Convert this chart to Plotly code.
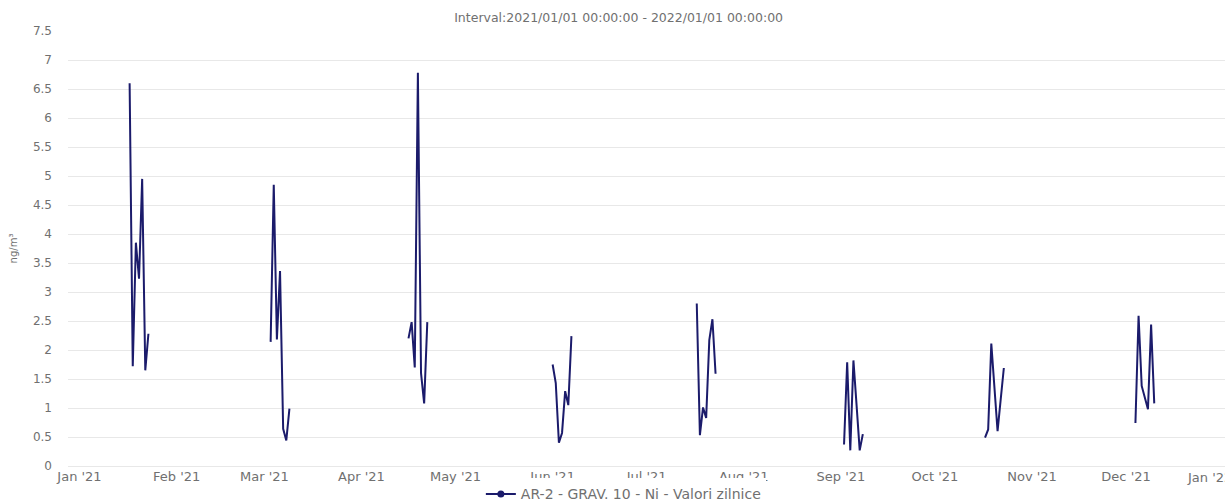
import plotly.graph_objects as go

# ---- data ----
dates = [
    "2021-01-17", "2021-01-18", "2021-01-19", "2021-01-20", "2021-01-21", "2021-01-22", "2021-01-23", "2021-01-24",
    "2021-03-03", "2021-03-04", "2021-03-05", "2021-03-06", "2021-03-07", "2021-03-08", "2021-03-09", "2021-03-10",
    "2021-04-16", "2021-04-17", "2021-04-18", "2021-04-19", "2021-04-20", "2021-04-21", "2021-04-22", "2021-04-23",
    "2021-06-01", "2021-06-02", "2021-06-03", "2021-06-04", "2021-06-05", "2021-06-06", "2021-06-07", "2021-06-08",
    "2021-07-17", "2021-07-18", "2021-07-19", "2021-07-20", "2021-07-21", "2021-07-22", "2021-07-23", "2021-07-24",
    "2021-09-02", "2021-09-03", "2021-09-04", "2021-09-05", "2021-09-06", "2021-09-07", "2021-09-08", "2021-09-09",
    "2021-10-17", "2021-10-18", "2021-10-19", "2021-10-20", "2021-10-21", "2021-10-22", "2021-10-23", "2021-10-24",
    "2021-12-04", "2021-12-05", "2021-12-06", "2021-12-07", "2021-12-08", "2021-12-09", "2021-12-10",
]
values = [
    6.60, 1.72, 3.85, 3.23, 4.95, 1.65, 2.28, None,
    2.14, 4.85, 2.18, 3.36, 0.64, 0.44, 0.99, None,
    2.20, 2.48, 1.70, 6.78, 1.60, 1.08, 2.48, None,
    1.75, 1.43, 0.40, 0.57, 1.29, 1.05, 2.24, None,
    2.80, 0.53, 1.01, 0.83, 2.17, 2.53, 1.59, None,
    0.37, 1.79, 0.27, 1.82, 1.05, 0.27, 0.55, None,
    0.49, 0.63, 2.11, 1.35, 0.60, 1.15, 1.69, None,
    0.74, 2.59, 1.38, 1.20, 0.98, 2.44, 1.08,
]
series_name = "AR-2 - GRAV. 10 - Ni - Valori zilnice"
tick_dates = ["2021-01-01", "2021-02-01", "2021-03-01", "2021-04-01", "2021-05-01", "2021-06-01",
              "2021-07-01", "2021-08-01", "2021-09-01", "2021-10-01", "2021-11-01", "2021-12-01"]
tick_labels = ["Jan '21", "Feb '21", "Mar '21", "Apr '21", "May '21", "Jun '21",
               "Jul '21", "Aug '21", "Sep '21", "Oct '21", "Nov '21", "Dec '21"]
last_tick_label = "Jan '22"
title_text = "Interval:2021/01/01 00:00:00 - 2022/01/01 00:00:00"
y_title = "ng/m³"

LINE = "#1b1b6b"
TXT = "#707070"
GRID = "#e8e8e8"
FONT = "DejaVu Sans"

fig = go.Figure()
fig.add_trace(go.Scatter(
    x=dates, y=values, mode="lines", connectgaps=False,
    line=dict(color=LINE, width=2), showlegend=False, name=series_name,
))
fig.add_trace(go.Scatter(
    x=[None], y=[None], mode="lines+markers", name=series_name,
    line=dict(color=LINE, width=2), marker=dict(color=LINE, size=7),
))

fig.update_layout(
    width=1225, height=502,
    margin=dict(l=68, r=0, t=31, b=36, autoexpand=False),
    paper_bgcolor="white", plot_bgcolor="white",
    font=dict(family=FONT, size=12, color=TXT),
    title=dict(text=title_text, x=0.505, xanchor="center", y=0.965, yanchor="middle",
               font=dict(family=FONT, size=12.5, color=TXT)),
    showlegend=True,
    legend=dict(orientation="h", x=0.48, xanchor="center", y=-0.065, yanchor="middle",
                font=dict(family=FONT, size=14, color=TXT), itemwidth=30),
    annotations=[dict(text=last_tick_label, xref="paper", yref="paper",
                      x=(1185 - 68) / 1157, y=-0.005, xanchor="left", yanchor="top",
                      showarrow=False, font=dict(family=FONT, size=13, color=TXT))],
)
fig.update_xaxes(
    type="date", range=["2020-12-28 08:00", "2022-01-01 14:00"],
    tickvals=tick_dates, ticktext=tick_labels, tickangle=0, automargin=False,
    showgrid=False, showline=False, zeroline=False, ticks="",
    ticklabelstandoff=1, tickfont=dict(family=FONT, size=13, color=TXT),
)
fig.update_yaxes(
    range=[0, 7.5], dtick=0.5, tick0=0, automargin=False,
    showgrid=True, gridcolor=GRID, gridwidth=1,
    zeroline=True, zerolinecolor=GRID, zerolinewidth=1,
    showline=False, ticks="", ticklabelstandoff=15,
    tickfont=dict(family=FONT, size=12, color=TXT),
    title=dict(text=y_title, standoff=13, font=dict(family=FONT, size=10, color=TXT)),
)

fig.write_html("out.html", config={"displayModeBar": False},
               post_script="document.body.style.margin='0';document.body.style.overflow='hidden';")
